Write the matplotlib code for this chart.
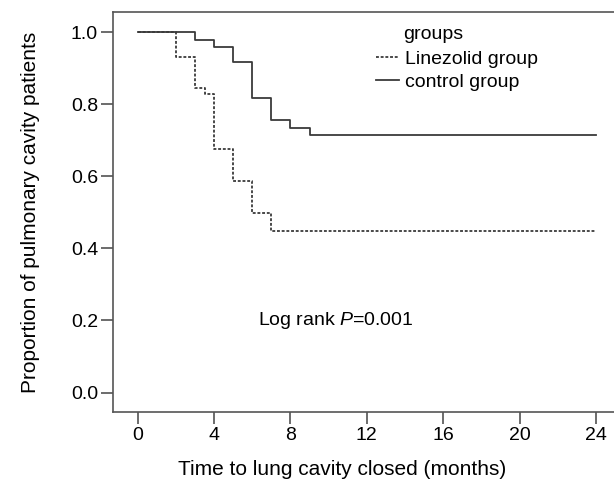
#!/bin/env python3
import matplotlib
matplotlib.use("Agg")
import matplotlib.pyplot as plt

plt.rcParams["font.family"] = ["Liberation Sans", "DejaVu Sans"]
plt.rcParams["mathtext.fontset"] = "custom"
plt.rcParams["mathtext.rm"] = "Liberation Sans"
plt.rcParams["mathtext.it"] = "Liberation Sans:italic"

# Kaplan-Meier steps
control_t = [0, 3, 4, 5, 6, 7, 8, 9, 24]
control_s = [1.0, 0.979, 0.959, 0.918, 0.816, 0.755, 0.735, 0.714, 0.714]
linezolid_t = [0, 2, 3, 3.5, 4, 5, 6, 7, 24]
linezolid_s = [1.0, 0.931, 0.846, 0.829, 0.675, 0.587, 0.499, 0.448, 0.448]

x_ticks = [0, 4, 8, 12, 16, 20, 24]
y_ticks = [0.0, 0.2, 0.4, 0.6, 0.8, 1.0]

fig = plt.figure(figsize=(6.14, 4.8), dpi=100)
ax = fig.add_axes([0.1835, 0.1417, 0.8165, 0.8333])

ax.step(control_t, control_s, where="post", color="#3a3a3a", lw=1.3,
        label="control group")
ax.step(linezolid_t, linezolid_s, where="post", color="#3a3a3a", lw=1.3,
        ls=(0, (1.6, 1.0)), label="Linezolid group")

ax.set_xlim(-1.31, 24.94)
ax.set_ylim(-0.054, 1.056)
ax.set_xticks(x_ticks)
ax.set_yticks(y_ticks)
ax.set_yticklabels([f"{v:.1f}" for v in y_ticks])
ax.tick_params(labelsize=14, length=8.5, width=1.1, color="#444444", pad=2)

for side in ["left", "top", "bottom"]:
    ax.spines[side].set_color("#555555")
    ax.spines[side].set_linewidth(1.2)
ax.spines["right"].set_visible(False)

ax.set_xlabel("Time to lung cavity closed (months)", fontsize=15, va="center")
ax.xaxis.set_label_coords(0.458, -0.145)
ax.set_ylabel("Proportion of pulmonary cavity patients", fontsize=15, labelpad=22)

# legend, title placed by hand so it lines up with the labels
h, l = ax.get_legend_handles_labels()
leg = ax.legend([h[1], h[0]], [l[1], l[0]], frameon=False, fontsize=14,
                loc="upper left", bbox_to_anchor=(0.525, 0.905),
                handlelength=1.2, handletextpad=0.3, labelspacing=0.28,
                borderpad=0, borderaxespad=0)
ax.text(0.579, 0.9425, "groups", transform=ax.transAxes, fontsize=14,
        ha="left", va="center")

ax.text(6.3, 0.2, r"Log rank $P$=0.001", fontsize=14, ha="left", va="center")

fig.savefig("out.png", dpi=100)
